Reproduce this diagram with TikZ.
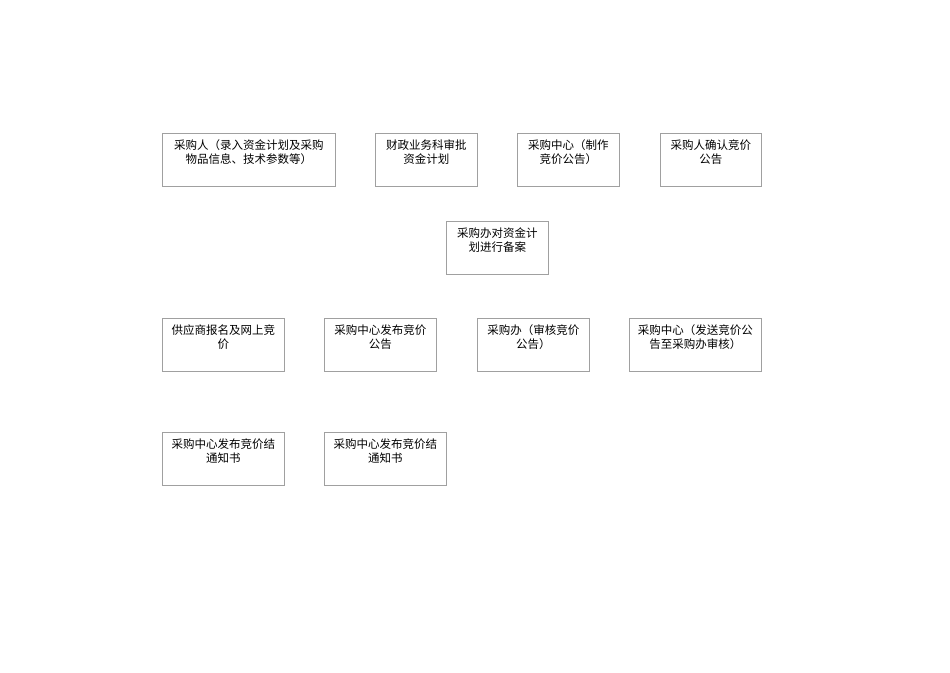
\documentclass[tikz,border=0pt]{standalone}
\usepackage{fontspec}
\newfontfamily\cjk{Noto Sans CJK SC}
\usetikzlibrary{calc}
\tikzset{every picture/.style={line width=0.75pt}}
\tikzset{
  stepbox/.style={draw={rgb, 255:red, 160; green, 160; blue, 160}, anchor=north west, inner sep=0pt, minimum height=53},
  tag/.style={anchor=north, align=center, inner sep=0.75pt, font=\cjk\fontsize{11.5}{14}\selectfont}
}

\begin{document}
\begin{tikzpicture}[x=1pt,y=1pt,yscale=-1,xscale=1]
\useasboundingbox (0,0) rectangle (950,672);

%Shape: Rectangle [row 1]
\draw (162,133) node [stepbox, minimum width=173] (cgr) {};
\draw (375,133) node [stepbox, minimum width=102] (czsp) {};
\draw (517,133) node [stepbox, minimum width=102] (zxzz) {};
\draw (660,133) node [stepbox, minimum width=101] (cgrqr) {};
%Shape: Rectangle [row 2]
\draw (446,221) node [stepbox, minimum width=102] (cgbba) {};
%Shape: Rectangle [row 3]
\draw (162,318) node [stepbox, minimum width=122] (gysbm) {};
\draw (324,318) node [stepbox, minimum width=112] (zxfb) {};
\draw (477,318) node [stepbox, minimum width=112] (cgbsh) {};
\draw (629,318) node [stepbox, minimum width=132] (zxfs) {};
%Shape: Rectangle [row 4]
\draw (162,432) node [stepbox, minimum width=122] (zxjga) {};
\draw (324,432) node [stepbox, minimum width=122] (zxjgb) {};

% Text Node
\draw ($(cgr.north)+(0,6)$) node [tag] (cgrt) {采购人（录入资金计划及采购\\物品信息、技术参数等）};
% Text Node
\draw ($(czsp.north)+(0,6)$) node [tag] (czspt) {财政业务科审批\\资金计划};
% Text Node
\draw ($(zxzz.north)+(0,6)$) node [tag] (zxzzt) {采购中心（制作\\竞价公告）};
% Text Node
\draw ($(cgrqr.north)+(0,6)$) node [tag] (cgrqrt) {采购人确认竞价\\公告};
% Text Node
\draw ($(cgbba.north)+(0,6)$) node [tag] (cgbbat) {采购办对资金计\\划进行备案};
% Text Node
\draw ($(gysbm.north)+(0,6)$) node [tag] (gysbmt) {供应商报名及网上竞\\价};
% Text Node
\draw ($(zxfb.north)+(0,6)$) node [tag] (zxfbt) {采购中心发布竞价\\公告};
% Text Node
\draw ($(cgbsh.north)+(0,6)$) node [tag] (cgbsht) {采购办（审核竞价\\公告）};
% Text Node
\draw ($(zxfs.north)+(0,6)$) node [tag] (zxfst) {采购中心（发送竞价公\\告至采购办审核）};
% Text Node
\draw ($(zxjga.north)+(0,6)$) node [tag] (zxjgat) {采购中心发布竞价结\\通知书};
% Text Node
\draw ($(zxjgb.north)+(0,6)$) node [tag] (zxjgbt) {采购中心发布竞价结\\通知书};

\end{tikzpicture}
\end{document}
